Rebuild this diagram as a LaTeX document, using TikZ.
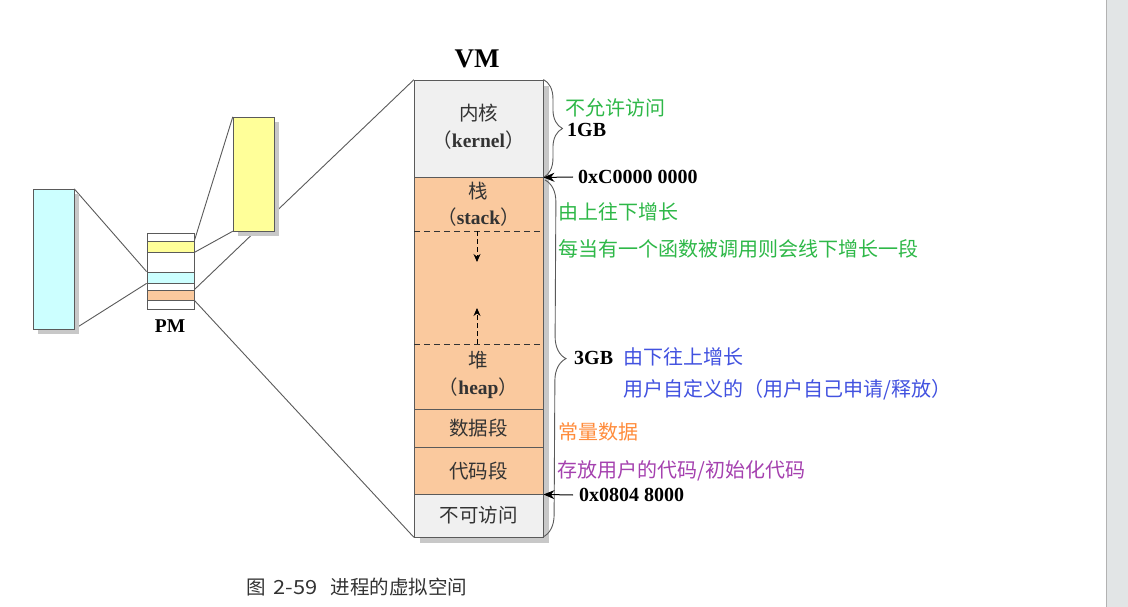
\documentclass[tikz,border=0pt]{standalone}
\usepackage{fontspec}
\setmainfont{Liberation Serif}
\newfontfamily\cjk{Noto Sans CJK SC}
\usetikzlibrary{arrows.meta,decorations.pathreplacing,calc}
\definecolor{peach}{RGB}{250,201,158}
\definecolor{kgray}{RGB}{240,240,240}
\definecolor{lcyan}{RGB}{204,255,255}
\definecolor{lyellow}{RGB}{255,255,153}
\definecolor{shadowgray}{RGB}{200,200,200}
\definecolor{tgreen}{RGB}{46,184,72}
\definecolor{tblue}{RGB}{66,82,224}
\definecolor{torange}{RGB}{255,140,60}
\definecolor{tpurple}{RGB}{165,65,175}
\definecolor{txt}{RGB}{51,51,51}
\definecolor{edge}{RGB}{90,90,90}
\definecolor{barbg}{RGB}{226,229,230}
\begin{document}
\begin{tikzpicture}[x=1pt,y=-1pt,
  seg/.style={draw=edge, line width=0.9pt, inner sep=0, minimum width=129pt},
  ghost/.style={draw=none, fill=none, inner sep=0},
  pmrow/.style={draw=edge, line width=0.8pt, inner sep=0, minimum width=47pt, fill=white},
  bigbox/.style={draw=edge, line width=0.9pt, inner sep=0, minimum width=41pt},
  linkline/.style={draw=edge, line width=0.9pt},
  lbl/.style={text=txt, inner sep=0, font=\cjk\fontsize{19.5}{22}\selectfont},
  blbl/.style={text=black, inner sep=0, font=\bfseries\fontsize{20}{22}\selectfont},
  note/.style={inner sep=0, anchor=west, font=\cjk\fontsize{20}{24}\selectfont},
  bracestyle/.style={draw=edge, line width=0.9pt, decorate},
  ptr/.style={draw=black, line width=1pt, -{Stealth[length=11pt,width=9pt]}},
  growarrow/.style={draw=black, line width=0.9pt, dash pattern=on 5pt off 3pt, -{Stealth[length=8pt,width=7pt]}},
  splitline/.style={draw=black!80, line width=0.9pt, dash pattern=on 6pt off 4pt}
]
\useasboundingbox (0,0) rectangle (1128,607);
\fill[white] (0,0) rectangle (1128,607);
% scrollbar strip
\fill[barbg] (1106,0) rectangle (1128,607);
\draw[black!30, line width=1pt] (1106,0) -- (1106,607);

% --- PM rows ---
\node[pmrow, minimum height=8pt]  (r1) at (170.5,237)   {};
\node[pmrow, minimum height=11pt, fill=lyellow] (r2) at (170.5,246.5) {};
\node[pmrow, minimum height=20pt] (r3) at (170.5,262)   {};
\node[pmrow, minimum height=11pt, fill=lcyan] (r4) at (170.5,277.5) {};
\node[pmrow, minimum height=7pt]  (r5) at (170.5,286.5) {};
\node[pmrow, minimum height=10pt, fill=peach] (r6) at (170.5,295) {};
\node[pmrow, minimum height=9pt]  (r7) at (170.5,304.5) {};
\node[inner sep=0, font=\bfseries\fontsize{19.5}{22}\selectfont] (pm) at (170,326) {PM};

% --- reference frames for connector ends ---
\node[ghost, minimum width=129pt, minimum height=457pt] (vmref) at (478.5,308.5) {};
\node[ghost, minimum width=41pt, minimum height=140pt] (cbref) at (53.5,259) {};
\node[ghost, minimum width=41pt, minimum height=114pt] (ybref) at (253.5,174) {};

% connectors (partly hidden behind boxes and shadows)
\draw[linkline] (cbref.north east) -- (r4.north west);
\draw[linkline] (cbref.south east) -- (r4.south west);
\draw[linkline] (ybref.north west) -- (r2.north east);
\draw[linkline] (ybref.south west) -- (r2.south east);
\draw[linkline] (r6.north east) -- (vmref.north west);
\draw[linkline] (r6.south east) -- (vmref.south west);

% shadows
\fill[shadowgray] ($(cbref.north west)+(5,5)$) rectangle ($(cbref.south east)+(5,5)$);
\fill[shadowgray] ($(ybref.north west)+(5,5)$) rectangle ($(ybref.south east)+(5,5)$);
\fill[shadowgray] ($(vmref.north west)+(6,6)$) rectangle ($(vmref.south east)+(6,6)$);

% boxes
\node[bigbox, minimum height=140pt, fill=lcyan] (cb) at (53.5,259) {};
\node[bigbox, minimum height=114pt, fill=lyellow] (yb) at (253.5,174) {};
\node[seg, minimum height=97pt, fill=kgray] (kern) at (478.5,128.5) {};
\node[seg, minimum height=232pt, fill=peach] (user) at (478.5,293) {};
\node[seg, minimum height=38pt, fill=peach] (data) at (478.5,428) {};
\node[seg, minimum height=47pt, fill=peach] (code) at (478.5,470.5) {};
\node[seg, minimum height=43pt, fill=kgray] (noacc) at (478.5,515.5) {};

% dashed split lines and growth arrows
\coordinate (s1) at (414,231);
\coordinate (s2) at (543,231);
\coordinate (h1) at (414,344);
\coordinate (h2) at (543,344);
\draw[splitline] (s1) -- (s2);
\draw[splitline] (h1) -- (h2);
\coordinate (sd0) at (477,231);
\coordinate (sd1) at (477,262);
\coordinate (hu0) at (477,344);
\coordinate (hu1) at (477,308);
\draw[growarrow] (sd0) -- (sd1);
\draw[growarrow] (hu0) -- (hu1);

% VM labels
\node[inner sep=0, font=\bfseries\fontsize{27}{30}\selectfont] (vm) at (477,59) {VM};
\node[lbl] (lk1) at (478.5,113) {内核};
\node[lbl] (lk2) at (478.5,140) {（\textbf{\rmfamily kernel}）};
\node[lbl] (ls1) at (478.5,191) {栈};
\node[lbl] (ls2) at (478.5,217) {（\textbf{\rmfamily stack}）};
\node[lbl] (lh1) at (478.5,360) {堆};
\node[lbl] (lh2) at (478.5,388) {（\textbf{\rmfamily heap}）};
\node[lbl] (ld) at (478.5,428) {数据段};
\node[lbl] (lc) at (478.5,471) {代码段};
\node[lbl] (ln) at (478.5,515) {不可访问};

% braces
\draw[bracestyle, decoration={brace, amplitude=19pt}] (kern.north east) -- (kern.south east);
\coordinate (b2a) at (545,180);
\coordinate (b2b) at (543,537);
\draw[bracestyle, decoration={brace, amplitude=22pt}] (b2a) -- (b2b);

% addresses
\node[blbl, anchor=west] (addr1) at (578,177) {0xC0000 0000};
\node[blbl, anchor=west] (addr2) at (579,495) {0x0804 8000};
\draw[ptr] ([xshift=-5pt]addr1.west) -- (kern.south east);
\draw[ptr] ([xshift=-6pt]addr2.west) -- (code.south east);
\node[blbl, anchor=west] (g1) at (567,130) {1GB};
\node[blbl, anchor=west] (g3) at (574,358) {3GB};

% notes
\node[note, text=tgreen] (n1) at (565,108) {不允许访问};
\node[note, text=tgreen] (n2) at (558,212) {由上往下增长};
\node[note, text=tgreen] (n3) at (558,249) {每当有一个函数被调用则会线下增长一段};
\node[note, text=tblue] (n4) at (623,357) {由下往上增长};
\node[note, text=tblue] (n5) at (623,390) {用户自定义的（用户自己申请/释放）};
\node[note, text=torange] (n6) at (558,432) {常量数据};
\node[note, text=tpurple] (n7) at (557,471) {存放用户的代码/初始化代码};

% caption
\node[inner sep=0, anchor=west, text=txt, font=\cjk\fontsize{19.5}{22}\selectfont] (cap) at (246,587) {图\hspace{8pt}\scalebox{1.12}[1]{2-59}\hspace{13pt}进程的虚拟空间};
\end{tikzpicture}
\end{document}
